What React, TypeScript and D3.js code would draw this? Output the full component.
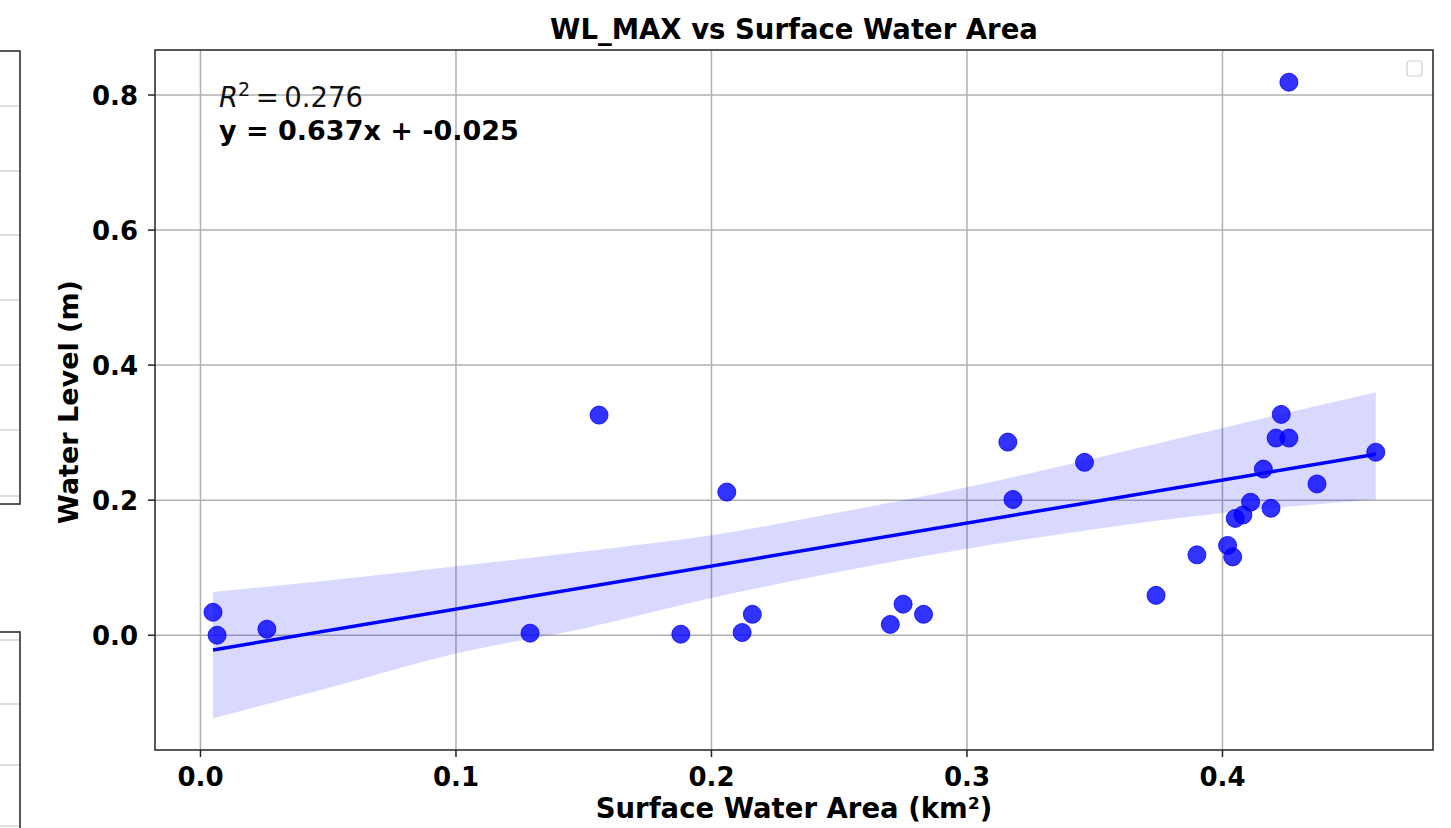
import * as d3 from "d3";
import React, { useRef, useEffect } from "react";

// surface water area (km²) and WL_MAX water level (m)
const areaKm2 = [0.0049, 0.0065, 0.026, 0.129, 0.156, 0.188, 0.206, 0.212, 0.216, 0.270,
  0.275, 0.283, 0.316, 0.318, 0.346, 0.374, 0.390, 0.402, 0.404, 0.405,
  0.408, 0.411, 0.416, 0.419, 0.421, 0.423, 0.426, 0.426, 0.437, 0.460];
const waterLevel = [0.034, 0.000, 0.009, 0.003, 0.326, 0.0015, 0.212, 0.004, 0.031, 0.016,
  0.046, 0.031, 0.286, 0.201, 0.256, 0.059, 0.119, 0.133, 0.116, 0.173,
  0.178, 0.197, 0.246, 0.188, 0.292, 0.327, 0.292, 0.819, 0.224, 0.271];

// fit shown in the annotation
const slope = 0.637;
const intercept = -0.025;
const r2 = 0.276;

// 95% confidence band (bootstrap) edges
const bandX = [0.0049, 0.05, 0.1, 0.15, 0.2, 0.25, 0.3, 0.35, 0.4, 0.460];
const bandHi = [0.064, 0.081, 0.102, 0.124, 0.148, 0.182, 0.219, 0.262, 0.307, 0.360];
const bandLo = [-0.123, -0.078, -0.027, 0.010, 0.055, 0.094, 0.128, 0.157, 0.181, 0.201];

const xTicks = [0.0, 0.1, 0.2, 0.3, 0.4];
const yTicks = [0.0, 0.2, 0.4, 0.6, 0.8];

// pieces of the neighbouring subplots cut off at the left edge
const leftPanelA = [106, 171, 235, 300, 365, 430, 496];
const leftPanelB = [640, 704, 765, 826];

export default function App() {
  const svgRef = useRef<SVGSVGElement>(null);
  const width = 1451;
  const height = 828;
  const left = 155, right = 1433, top = 50, bottom = 750;

  useEffect(() => {
    const svg = d3.select(svgRef.current);
    svg.selectAll("*").remove();
    const font = "DejaVu Sans, sans-serif";

    const x = d3.scaleLinear().domain([-0.0178, 0.4824]).range([left, right]);
    const y = d3.scaleLinear().domain([-0.170, 0.8667]).range([bottom, top]);

    // left edge fragments
    svg.selectAll(".fragA").data(leftPanelA).enter().append("line")
      .attr("x1", 0).attr("x2", 20).attr("y1", d => d).attr("y2", d => d)
      .attr("stroke", "#c8c8c8").attr("stroke-width", 1.2);
    svg.append("rect").attr("x", -5).attr("y", 51).attr("width", 25).attr("height", 453)
      .attr("fill", "none").attr("stroke", "#222").attr("stroke-width", 1.5);
    svg.selectAll(".fragB").data(leftPanelB).enter().append("line")
      .attr("x1", 0).attr("x2", 20).attr("y1", d => d).attr("y2", d => d)
      .attr("stroke", "#c8c8c8").attr("stroke-width", 1.2);
    svg.append("rect").attr("x", -5).attr("y", 632).attr("width", 25).attr("height", 220)
      .attr("fill", "none").attr("stroke", "#222").attr("stroke-width", 1.5);

    // grid
    const g = svg.append("g");
    g.selectAll(".gx").data(xTicks).enter().append("line")
      .attr("x1", d => x(d)).attr("x2", d => x(d)).attr("y1", top).attr("y2", bottom)
      .attr("stroke", "#b0b0b0").attr("stroke-width", 1.5);
    g.selectAll(".gy").data(yTicks).enter().append("line")
      .attr("x1", left).attr("x2", right).attr("y1", d => y(d)).attr("y2", d => y(d))
      .attr("stroke", "#b0b0b0").attr("stroke-width", 1.5);

    // confidence band
    const area = d3.area<number>()
      .curve(d3.curveMonotoneX)
      .x((d, i) => x(bandX[i]))
      .y0((d, i) => y(bandLo[i]))
      .y1((d, i) => y(bandHi[i]));
    g.append("path").datum(bandX).attr("d", area).attr("fill", "#0000ff").attr("fill-opacity", 0.15);

    // scatter
    g.selectAll(".pt").data(areaKm2).enter().append("circle")
      .attr("cx", d => x(d)).attr("cy", (d, i) => y(waterLevel[i])).attr("r", 9)
      .attr("fill", "#0000ff").attr("fill-opacity", 0.8)
      .attr("stroke", "#0000ff").attr("stroke-opacity", 0.8).attr("stroke-width", 1);

    // regression line
    const xmin = d3.min(areaKm2)!, xmax = d3.max(areaKm2)!;
    const line = d3.line<number>().x(d => x(d)).y(d => y(slope * d + intercept));
    g.append("path").datum([xmin, xmax]).attr("d", line)
      .attr("fill", "none").attr("stroke", "#0000ff").attr("stroke-width", 3.5);

    // spines
    svg.append("rect").attr("x", left).attr("y", top).attr("width", right - left).attr("height", bottom - top)
      .attr("fill", "none").attr("stroke", "#222").attr("stroke-width", 1.5);

    // ticks
    svg.selectAll(".tx").data(xTicks).enter().append("line")
      .attr("x1", d => x(d)).attr("x2", d => x(d)).attr("y1", bottom).attr("y2", bottom + 7)
      .attr("stroke", "#222").attr("stroke-width", 1.5);
    svg.selectAll(".tlx").data(xTicks).enter().append("text")
      .attr("x", d => x(d)).attr("y", 786).attr("text-anchor", "middle")
      .style("font-family", font).style("font-weight", "bold").style("font-size", "26px")
      .text(d => d3.format(".1f")(d));
    svg.selectAll(".ty").data(yTicks).enter().append("line")
      .attr("x1", left - 7).attr("x2", left).attr("y1", d => y(d)).attr("y2", d => y(d))
      .attr("stroke", "#222").attr("stroke-width", 1.5);
    svg.selectAll(".tly").data(yTicks).enter().append("text")
      .attr("x", 138).attr("y", d => y(d) + 9.5).attr("text-anchor", "end")
      .style("font-family", font).style("font-weight", "bold").style("font-size", "26px")
      .text(d => d3.format(".1f")(d));

    // labels
    svg.append("text").attr("x", 794).attr("y", 39).attr("text-anchor", "middle")
      .style("font-family", font).style("font-weight", "bold").style("font-size", "27.5px")
      .text("WL_MAX vs Surface Water Area");
    svg.append("text").attr("x", 794).attr("y", 818).attr("text-anchor", "middle")
      .style("font-family", font).style("font-weight", "bold").style("font-size", "27.5px")
      .text("Surface Water Area (km²)");
    svg.append("text").attr("transform", "translate(78,402) rotate(-90)").attr("text-anchor", "middle")
      .style("font-family", font).style("font-weight", "bold").style("font-size", "27px")
      .text("Water Level (m)");

    // annotation
    const r2t = svg.append("text").attr("x", 219).attr("y", 107)
      .style("font-family", font).style("font-size", "27.5px").attr("fill", "#111");
    r2t.append("tspan").style("font-style", "italic").text("R");
    r2t.append("tspan").attr("dy", -11).style("font-size", "19px").text("2");
    r2t.append("tspan").attr("dy", 11).text(`\u2009=\u2009${r2.toFixed(3)}`);
    svg.append("text").attr("x", 219).attr("y", 140)
      .style("font-family", font).style("font-weight", "bold").style("font-size", "27px")
      .text(`y = ${slope.toFixed(3)}x + ${intercept.toFixed(3)}`);

    // empty legend
    svg.append("rect").attr("x", 1407).attr("y", 61).attr("width", 15).attr("height", 15).attr("rx", 3)
      .attr("fill", "white").attr("stroke", "#d0d0d0").attr("stroke-width", 1.2);
  }, []);

  return (
    <svg ref={svgRef} width={width} height={height}
      style={{ position: "absolute", left: 0, top: 0, background: "white" }} />
  );
}
